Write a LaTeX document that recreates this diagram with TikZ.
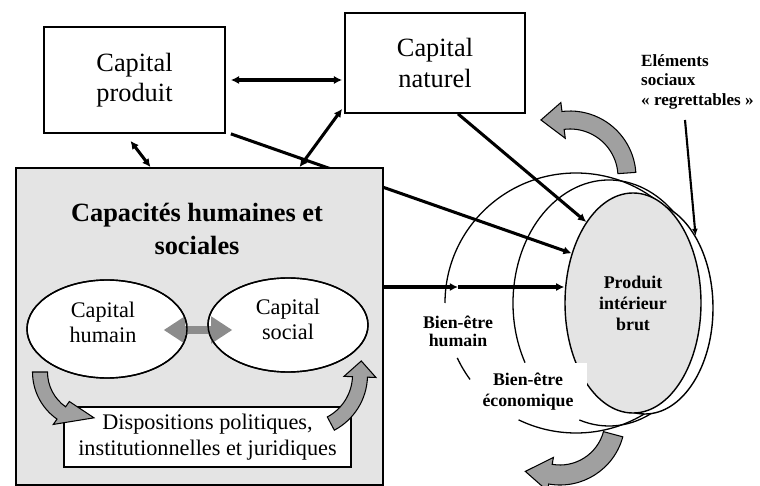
\documentclass[tikz,border=0pt]{standalone}
\usepackage{fontspec}
\setmainfont{Liberation Serif}
\usetikzlibrary{shapes.geometric,arrows.meta,calc}
\definecolor{boxgray}{HTML}{E4E4E4}
\definecolor{arrgray}{HTML}{A0A0A0}
\definecolor{dblgray}{HTML}{8C8C8C}
\newcommand{\fCap}{\fontsize{22.5}{26}\selectfont}
\newcommand{\fTitle}{\fontsize{22.5}{28}\selectfont\bfseries}
\newcommand{\fEll}{\fontsize{19}{21.5}\selectfont}
\newcommand{\fDisp}{\fontsize{19}{22}\selectfont}
\newcommand{\fPib}{\fontsize{15.3}{18}\selectfont\bfseries}
\newcommand{\fBH}{\fontsize{15.2}{15.5}\selectfont\bfseries}
\newcommand{\fBE}{\fontsize{15.2}{18}\selectfont\bfseries}
\newcommand{\fElem}{\fontsize{14.6}{16.6}\selectfont\bfseries}
% curved block arrow: cx cy r a1 abase atip rtip halfshaft halfhead
\newcommand{\curvarr}[9]{%
  \pgfmathsetmacro\cra{#3+#8}\pgfmathsetmacro\crb{#3-#8}%
  \pgfmathsetmacro\crc{#3+#9}\pgfmathsetmacro\crd{#3-#9}%
  \filldraw[curvarrow] ($(#1,#2)+(#4:\cra)$) arc[start angle=#4, end angle=#5, radius=\cra]
    -- ($(#1,#2)+(#5:\crc)$) -- ($(#1,#2)+(#6:#7)$) -- ($(#1,#2)+(#5:\crd)$)
    -- ($(#1,#2)+(#5:\crb)$) arc[start angle=#5, end angle=#4, radius=\crb] -- cycle;}
\begin{document}
\begin{tikzpicture}[x=0.03cm,y=-0.03cm,
  box/.style={draw, line width=1.5pt, rectangle, inner sep=0pt},
  conn/.style={line width=2.6pt, -{Latex[length=7pt,width=7pt]}},
  dconn/.style={line width=2.6pt, {Latex[length=7pt,width=7pt]}-{Latex[length=7pt,width=7pt]}},
  circ/.style={line width=1.1pt},
  curvarrow/.style={fill=arrgray, draw=black, line width=0.9pt, line join=miter},
  ell/.style={draw, ellipse, line width=1.2pt, inner sep=0pt},
]
\useasboundingbox (0,0) rectangle (760,486);
\fill[white] (0,0) rectangle (760,486);

% well-being circles
\draw[circ] ($(576,303)+(-180:131 and 130)$) arc[start angle=-180,end angle=116,x radius=131,y radius=130];
\draw[circ] ($(576,303)+(144:131 and 130)$) arc[start angle=144,end angle=155,x radius=131,y radius=130];
\draw[circ] ($(609,303)+(151:96 and 123)$) arc[start angle=151,end angle=468,x radius=96,y radius=123];

% top boxes
\node[box, minimum width=5.43cm, minimum height=3.18cm, font=\fCap, align=center] (prod) at (134.5,80) {Capital\\produit};
\node[box, minimum width=5.4cm, minimum height=3cm, font=\fCap, align=center] (nat) at (435,63) {Capital\\naturel};

% GDP and regrettable elements
\node[ell, fill=white, minimum width=4.08cm, minimum height=6.36cm] (regr) at (645,308) {};
\node[ell, fill=boxgray, minimum width=4.08cm, minimum height=6.6cm, font=\fPib, align=center] (pib) at (633,303) {Produit\\intérieur\\brut};

\draw[conn] ($(prod.south east)+(5,0)$) -- (pib.141);
\draw[conn] ($(nat.south)+(23,0)$) -- (pib.120);

% human and social capacities
\node[box, fill=boxgray, minimum width=11.01cm, minimum height=9.51cm] (caps) at (199.5,326.5) {};
\node[font=\fTitle, align=center] (title) at (197,229) {Capacités humaines et\\sociales};

\draw[dconn] ($(prod.east)+(5,0)$) -- ($(prod.east -| nat.west)+(-2,0)$);
\draw[dconn] ($(prod.south)+(-4,7)$) -- ($(caps.north)+(-49,0)$);
\draw[dconn] ($(caps.north)+(100,0)$) -- ($(nat.south west)+(-2,-5)$);

\coordinate (bhp) at (458,287);
\draw[conn] (caps.east |- bhp) -- (bhp);
\draw[conn] (bhp) -- (pib.west |- bhp);

\node[ell, fill=white, minimum width=4.8cm, minimum height=2.94cm] (hum) at (107,329) {};
\node[ell, fill=white, minimum width=4.8cm, minimum height=2.82cm] (soc) at (288,325) {};
\draw[line width=6.5pt, dblgray, {Triangle[length=18pt,width=22pt]}-{Triangle[length=18pt,width=22pt]}]
  ($(hum.east)+(-24,1)$) -- ($(soc.west)+(25,5)$);
\draw[line width=1.2pt] (hum.center) ellipse [x radius=80, y radius=49];
\draw[line width=1.2pt] (soc.center) ellipse [x radius=80, y radius=47];
\node[font=\fEll, align=center] (humt) at ($(hum)+(-4,-7)$) {Capital\\humain};
\node[font=\fEll, align=center] (soct) at ($(soc)+(0,-6)$) {Capital\\social};

\node[box, fill=white, minimum width=8.61cm, minimum height=1.8cm, font=\fDisp, align=center] (disp) at (207.5,437) {Dispositions politiques,\\institutionnelles et juridiques};

% curved block arrows
\curvarr{90}{372}{50}{180}{125}{85}{46}{7.5}{14}
\curvarr{305}{375}{55}{62}{2}{-14}{58}{7.5}{16}
\curvarr{570}{177}{57}{-4}{-97}{-117}{64}{9}{18}
\curvarr{560}{420}{55}{15}{100}{124}{62}{10}{17}

% labels
\node[font=\fBH, align=center] (bh) at (458,331) {Bien-être\\humain};
\fill[white] (490,363) rectangle (587,410);
\node[font=\fBE, align=center] (be) at (528,392) {Bien-être\\économique};
\node[font=\fElem, align=left, anchor=north west, inner sep=0pt] (elem) at (641,54) {Eléments\\sociaux\\« regrettables »};
\coordinate (etip) at (685,120);
\draw[line width=1.8pt, -{Latex[length=6pt,width=5pt]}] (etip) -- (regr.55);
\end{tikzpicture}
\end{document}
